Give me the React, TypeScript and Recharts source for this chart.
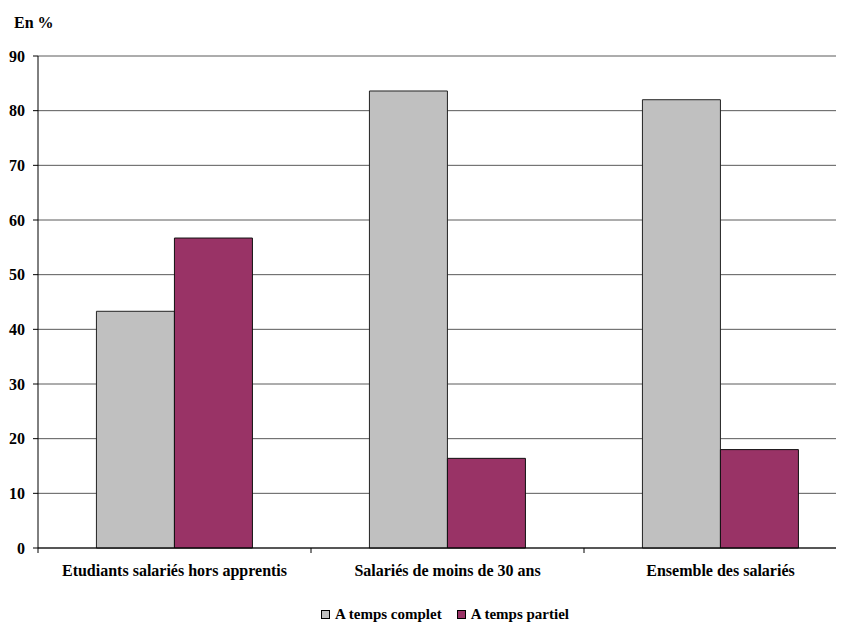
import React from "react";
import { BarChart, Bar, XAxis, YAxis, CartesianGrid, Legend } from "recharts";

const categories = [
  "Etudiants salariés hors apprentis",
  "Salariés de moins de 30 ans",
  "Ensemble des salariés",
];
const tempsComplet = [43.3, 83.6, 82.0];
const tempsPartiel = [56.7, 16.4, 18.0];
const yTicks = [0, 10, 20, 30, 40, 50, 60, 70, 80, 90];
const seriesNames = ["A temps complet", "A temps partiel"];
const seriesColors = ["#C0C0C0", "#993366"];

const data = categories.map((c, i) => ({
  name: c,
  complet: tempsComplet[i],
  partiel: tempsPartiel[i],
}));

const FONT = "'Liberation Serif', 'Times New Roman', serif";

const CategoryTick = (props: any) => {
  const { x, y, payload, index } = props;
  const off = payload.offset || 0;
  const n = categories.length;
  return (
    <g>
      {index === 0 && (
        <line x1={x - off} x2={x - off} y1={y - 8} y2={y - 3} stroke="#000" strokeWidth={1} />
      )}
      {index < n - 1 && (
        <line x1={x + off} x2={x + off} y1={y - 8} y2={y - 3} stroke="#000" strokeWidth={1} />
      )}
      <text
        x={x}
        y={y + 20}
        textAnchor="middle"
        fontFamily={FONT}
        fontWeight="bold"
        fontSize={16}
        fill="#000"
      >
        {payload.value}
      </text>
    </g>
  );
};

const LegendContent = () => (
  <div
    style={{
      display: "flex",
      justifyContent: "center",
      alignItems: "center",
      fontFamily: FONT,
      fontWeight: "bold",
      fontSize: 15,
      color: "#000",
      paddingLeft: 25,
      lineHeight: "18px",
    }}
  >
    {seriesNames.map((s, i) => (
      <span
        key={s}
        style={{ display: "inline-flex", alignItems: "center", marginRight: i === 0 ? 15 : 0 }}
      >
        <span
          style={{
            display: "inline-block",
            width: 7,
            height: 7,
            background: seriesColors[i],
            border: "1px solid #000",
            marginRight: 5,
          }}
        />
        {s}
      </span>
    ))}
  </div>
);

export default function App() {
  return (
    <div style={{ position: "relative", width: 836, height: 615, overflow: "hidden" }}>
      <div
        style={{
          position: "absolute",
          left: 6,
          top: 6,
          fontFamily: FONT,
          fontWeight: "bold",
          fontSize: 16,
          color: "#000",
        }}
      >
        En %
      </div>
      <BarChart
        width={860}
        height={615}
        data={data}
        margin={{ top: 48, right: 11, bottom: 0, left: 0 }}
        barCategoryGap="21.4%"
        barGap={0}
      >
        <CartesianGrid vertical={false} stroke="#5a5a5a" strokeWidth={1} />
        <XAxis
          dataKey="name"
          height={57}
          axisLine={{ stroke: "#000", strokeWidth: 1 }}
          tickLine={false}
          tick={<CategoryTick />}
          interval={0}
        />
        <YAxis
          width={30}
          domain={[0, 90]}
          ticks={yTicks}
          interval={0}
          axisLine={{ stroke: "#000", strokeWidth: 1 }}
          tickLine={{ stroke: "#000" }}
          tickSize={5}
          tickMargin={8}
          tick={{ fontFamily: FONT, fontWeight: "bold", fontSize: 16, fill: "#000" }}
        />
        <Legend
          verticalAlign="bottom"
          height={18}
          content={<LegendContent />}
          wrapperStyle={{ top: 597, bottom: "auto", height: 18 }}
        />
        <Bar
          dataKey="complet"
          name={seriesNames[0]}
          fill={seriesColors[0]}
          stroke="#222"
          strokeWidth={1}
          isAnimationActive={false}
        />
        <Bar
          dataKey="partiel"
          name={seriesNames[1]}
          fill={seriesColors[1]}
          stroke="#111"
          strokeWidth={1}
          isAnimationActive={false}
        />
      </BarChart>
    </div>
  );
}
